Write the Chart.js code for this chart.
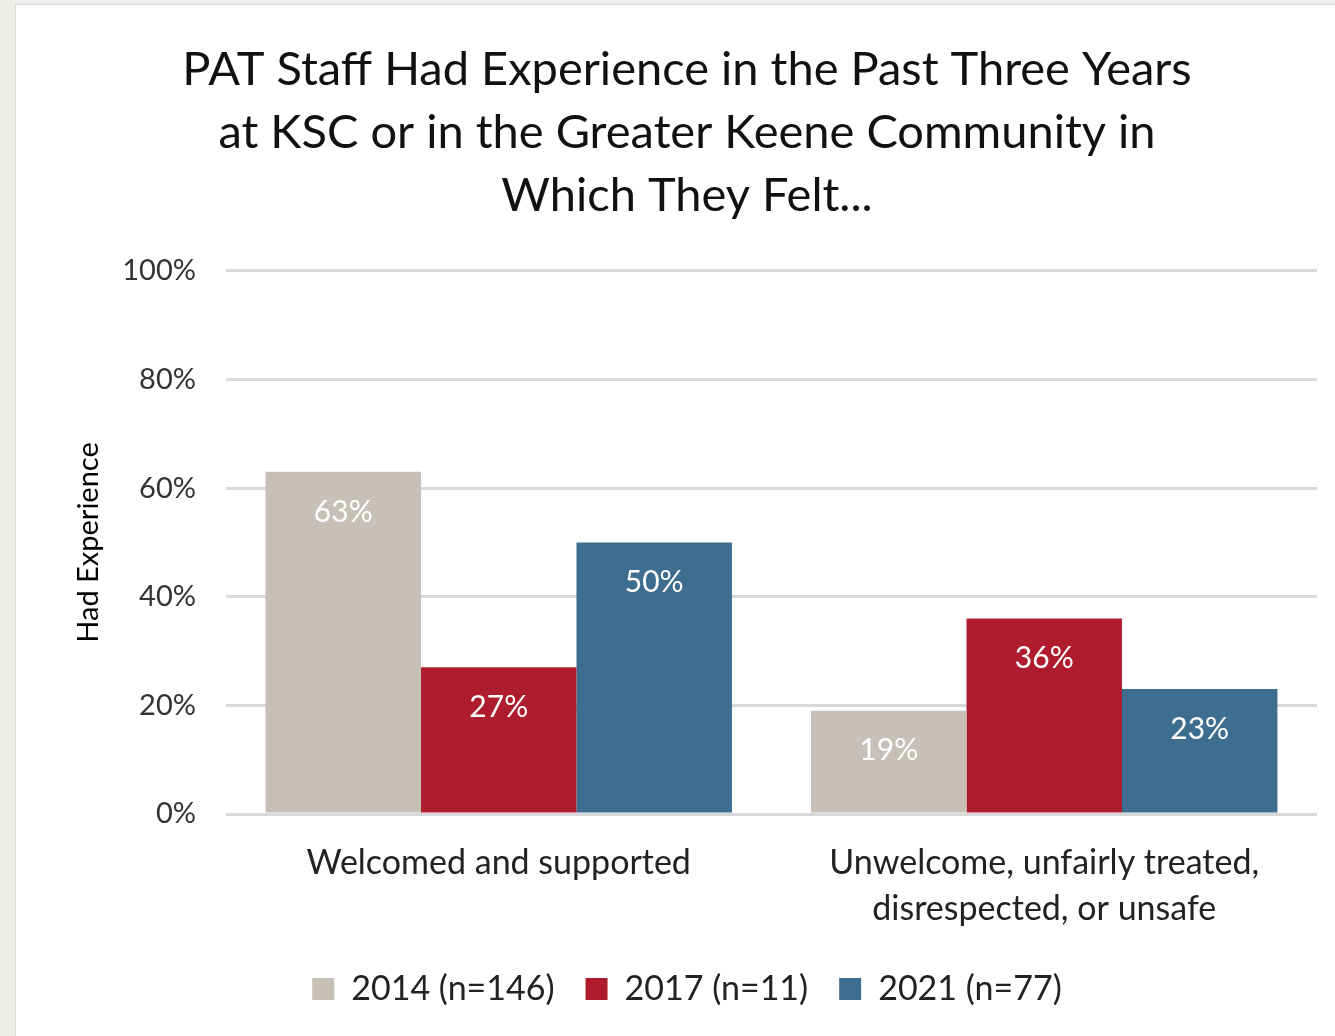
<!DOCTYPE html>
<html lang="en">
<head>
  <meta charset="UTF-8">
  <title>PAT Staff Experience</title>
  <style>
    * { margin: 0; padding: 0; box-sizing: border-box; }
    body {
      background: #eeeeea;
      width: 1335px;
      height: 1036px;
      overflow: hidden;
    }
    .panel {
      position: absolute;
      left: 15px;
      top: 4px;
      width: 1320px;
      height: 1032px;
      background: #ffffff;
      border-left: 1px solid #dcdcd8;
      border-top: 1px solid #dcdcd8;
    }
    canvas { display: block; }
  </style>
</head>
<body>
  <div class="panel">
    <canvas id="chart" width="1319" height="1031"></canvas>
  </div>

  <script src="https://cdn.jsdelivr.net/npm/chart.js"></script>
  <script>
    const categories = [
      'Welcomed and supported',
      ['Unwelcome, unfairly treated,', 'disrespected, or unsafe']
    ];
    const seriesNames = ['2014 (n=146)', '2017 (n=11)', '2021 (n=77)'];
    const values2014 = [63, 19];
    const values2017 = [27, 36];
    const values2021 = [50, 23];
    const yTicks = [0, 20, 40, 60, 80, 100];

    const colors = ['#c8bfb6', '#ae1c2e', '#3d6e8f'];
    const FONT = 'Lato, "Open Sans", sans-serif';

    // white value labels sitting just under the top of each bar
    const barLabels = {
      id: 'barLabels',
      afterDatasetsDraw(chart) {
        const ctx = chart.ctx;
        ctx.save();
        ctx.fillStyle = '#ffffff';
        ctx.font = '30px ' + FONT;
        ctx.textAlign = 'center';
        ctx.textBaseline = 'middle';
        chart.data.datasets.forEach((ds, i) => {
          chart.getDatasetMeta(i).data.forEach((bar, j) => {
            ctx.fillText(ds.data[j] + '%', bar.x, bar.y + 40);
          });
        });
        ctx.restore();
      }
    };

    new Chart(document.getElementById('chart'), {
      type: 'bar',
      data: {
        labels: categories,
        datasets: [
          { label: seriesNames[0], data: values2014, backgroundColor: colors[0] },
          { label: seriesNames[1], data: values2017, backgroundColor: colors[1] },
          { label: seriesNames[2], data: values2021, backgroundColor: colors[2] }
        ]
      },
      options: {
        responsive: false,
        animation: false,
        categoryPercentage: 0.855,
        barPercentage: 1.0,
        layout: { padding: { left: 41, right: 18, top: 33, bottom: 20 } },
        scales: {
          x: {
            grid: { display: false, drawTicks: false },
            border: { display: false },
            afterFit(axis) { axis.height = 127; },
            ticks: {
              color: '#222222',
              padding: 26,
              font: { family: FONT, size: 34, lineHeight: 1.35 },
              maxRotation: 0
            }
          },
          y: {
            min: 0,
            max: 100,
            afterBuildTicks(axis) {
              axis.ticks = yTicks.map(v => ({ value: v }));
            },
            afterFit(axis) { axis.width = 169; },
            grid: { color: '#d9d9d9', lineWidth: 3, drawTicks: false },
            border: { display: false },
            ticks: {
              color: '#333333',
              padding: 30,
              font: { family: FONT, size: 29 },
              callback: v => v + '%'
            },
            title: {
              display: true,
              text: 'Had Experience',
              color: '#000000',
              padding: { top: 14, bottom: 0 },
              font: { family: FONT, size: 29 }
            }
          }
        },
        plugins: {
          title: {
            display: true,
            text: [
              'PAT Staff Had Experience in the Past Three Years',
              'at KSC or in the Greater Keene Community in',
              'Which They Felt...'
            ],
            color: '#111111',
            font: { family: FONT, size: 47, weight: 'normal', lineHeight: 1.34 },
            padding: { top: 0, bottom: 44 }
          },
          legend: {
            position: 'bottom',
            labels: {
              color: '#222222',
              boxWidth: 22,
              boxHeight: 22,
              padding: 31,
              font: { family: FONT, size: 34 }
            }
          },
          tooltip: { enabled: false }
        }
      },
      plugins: [barLabels]
    });
  </script>
</body>
</html>
